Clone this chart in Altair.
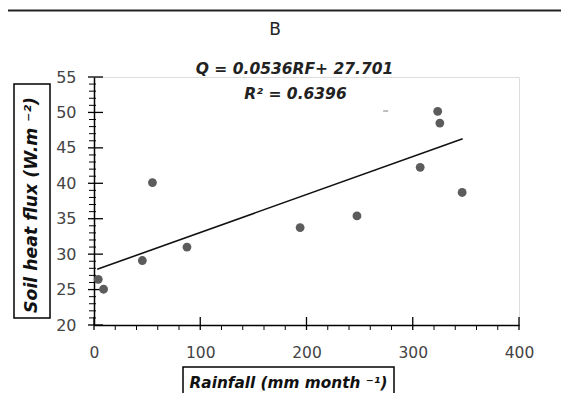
import altair as alt
import pandas as pd

# data
rainfall = [4, 9, 45.5, 55, 87.5, 194, 247.5, 307, 323.5, 325.5, 346.5]
heat_flux = [26.45, 25.05, 29.1, 40.1, 31.0, 33.75, 35.4, 42.25, 50.15, 48.5, 38.7]
dash_x = [274.5]
dash_y = [50.2]
fit_x = [3, 347]
fit_y = [27.86, 46.30]
y_major = [20, 25, 30, 35, 40, 45, 50, 55]
y_minor = [v for v in range(20, 56) if v % 5 != 0]
x_major = [0, 100, 200, 300, 400]
x_minor = [v for v in range(0, 401, 20) if v % 100 != 0]

W, H = 425, 248
FONT = "DejaVu Sans"

xs = alt.Scale(domain=[0, 400], nice=False, zero=False)
ys = alt.Scale(domain=[20, 55], nice=False, zero=False)

xaxis = alt.Axis(
    title=None, values=x_major, ticks=False, grid=False, domainColor="#000",
    domainWidth=1.5, labelFont=FONT, labelFontSize=15.5, labelColor="#444",
    labelPadding=20, labelFlush=False)
yaxis = alt.Axis(
    title=None, values=y_major, ticks=False, grid=False, domainColor="#000",
    domainWidth=1.5, labelFont=FONT, labelFontSize=16, labelColor="#444",
    labelPadding=18, labelFlush=False)

pts_df = pd.DataFrame({"rain": rainfall, "flux": heat_flux})
fit_df = pd.DataFrame({"rain": fit_x, "flux": fit_y})
dash_df = pd.DataFrame({"rain": dash_x, "flux": dash_y})

points = alt.Chart(pts_df).mark_circle(size=78, color="#5c5c5c", opacity=1).encode(
    x=alt.X("rain:Q", scale=xs, axis=xaxis),
    y=alt.Y("flux:Q", scale=ys, axis=yaxis),
)

fit = alt.Chart(fit_df).mark_line(color="#111", strokeWidth=1.6).encode(
    x=alt.X("rain:Q", scale=xs, axis=xaxis),
    y=alt.Y("flux:Q", scale=ys, axis=yaxis),
)

dash = alt.Chart(dash_df).mark_tick(orient="horizontal", size=5, thickness=1.2, color="#666").encode(
    x=alt.X("rain:Q", scale=xs, axis=xaxis),
    y=alt.Y("flux:Q", scale=ys, axis=yaxis),
)

ymaj = alt.Chart(pd.DataFrame({"v": y_major})).mark_rule(color="#000", strokeWidth=1.3).encode(
    y=alt.Y("v:Q", scale=ys, axis=yaxis), x=alt.value(-6), x2=alt.value(9))
ymin = alt.Chart(pd.DataFrame({"v": y_minor})).mark_rule(color="#000", strokeWidth=1).encode(
    y=alt.Y("v:Q", scale=ys, axis=yaxis), x=alt.value(-5), x2=alt.value(2))
xmaj = alt.Chart(pd.DataFrame({"v": x_major})).mark_rule(color="#000", strokeWidth=1.3).encode(
    x=alt.X("v:Q", scale=xs, axis=xaxis), y=alt.value(H - 8), y2=alt.value(H + 5))
xmin = alt.Chart(pd.DataFrame({"v": x_minor})).mark_rule(color="#000", strokeWidth=1).encode(
    x=alt.X("v:Q", scale=xs, axis=xaxis), y=alt.value(H), y2=alt.value(H + 5))

# decorations
top_line = alt.Chart(pd.DataFrame({"a": [0]})).mark_rule(color="#222", strokeWidth=2.2).encode(
    x=alt.value(-100), x2=alt.value(600), y=alt.value(-66.5))
panel = alt.Chart(pd.DataFrame({"t": ["B"]})).mark_text(
    font=FONT, fontSize=17, color="#222").encode(
    text="t:N", x=alt.value(181), y=alt.value(-47.5))
eq = alt.Chart(pd.DataFrame({"t": ["Q = 0.0536RF+ 27.701"]})).mark_text(
    font=FONT, fontSize=15.5, fontWeight="bold", fontStyle="italic", color="#222").encode(
    text="t:N", x=alt.value(200.5), y=alt.value(-8))
r2 = alt.Chart(pd.DataFrame({"t": ["R² = 0.6396"]})).mark_text(
    font=FONT, fontSize=15.5, fontWeight="bold", fontStyle="italic", color="#222").encode(
    text="t:N", x=alt.value(201.5), y=alt.value(17))

ybox = alt.Chart(pd.DataFrame({"a": [0]})).mark_rect(
    fill="white", stroke="#000", strokeWidth=1.5).encode(
    x=alt.value(-80), x2=alt.value(-44), y=alt.value(7), y2=alt.value(241))
ytitle = alt.Chart(pd.DataFrame({"t": ["Soil heat flux (W.m ⁻²)"]})).mark_text(
    font=FONT, fontSize=17.3, fontWeight="bold", fontStyle="italic", color="#111", angle=270).encode(
    text="t:N", x=alt.value(-62), y=alt.value(128))
xbox = alt.Chart(pd.DataFrame({"a": [0]})).mark_rect(
    fill="white", stroke="#000", strokeWidth=1.5).encode(
    x=alt.value(89), x2=alt.value(300), y=alt.value(290), y2=alt.value(340))
xtitle = alt.Chart(pd.DataFrame({"t": ["Rainfall (mm month ⁻¹)"]})).mark_text(
    font=FONT, fontSize=15.3, fontWeight="bold", fontStyle="italic", color="#111").encode(
    text="t:N", x=alt.value(194.5), y=alt.value(306))

chart = alt.layer(
    top_line, ybox, xbox, ymin, ymaj, xmin, xmaj, fit, dash, points,
    panel, eq, r2, ytitle, xtitle
).properties(
    width=W, height=H,
    autosize=alt.AutoSizeParams(type="none"),
    padding={"left": 86, "top": 69, "right": 42, "bottom": 68},
).configure_view(stroke=None).configure(background="white")

chart.save("out.html", embed_options={"renderer": "svg", "actions": False})
